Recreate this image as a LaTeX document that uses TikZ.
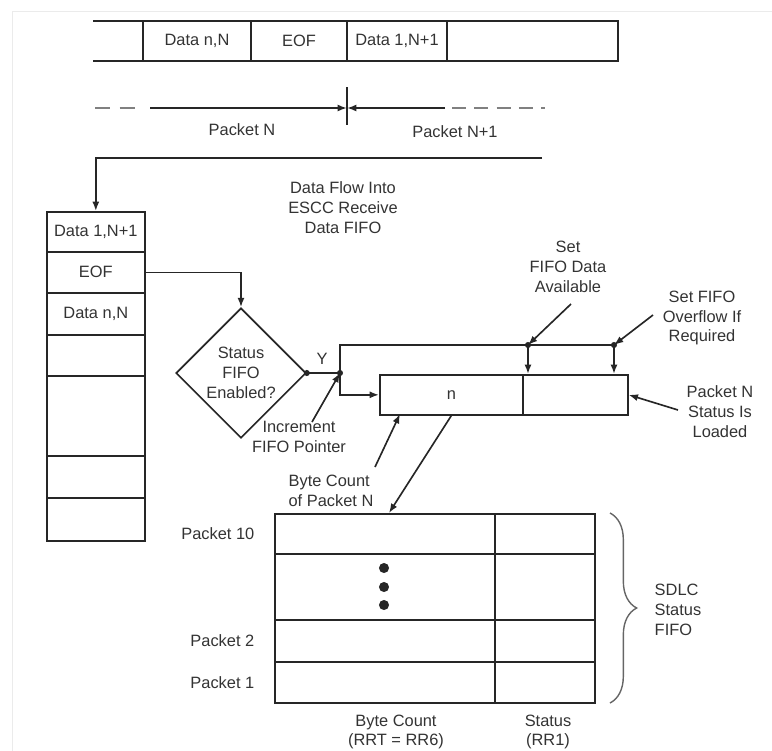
\documentclass[tikz,border=0pt]{standalone}
\usepackage{fontspec}
\setmainfont{Liberation Sans}
\usetikzlibrary{positioning,shapes.geometric,arrows.meta,decorations.pathreplacing}
\definecolor{ink}{HTML}{262626}
\definecolor{txt}{HTML}{333333}
\newcommand{\pxu}{0.03cm}

\begin{document}
\begin{tikzpicture}[x=\pxu, y=-\pxu, color=ink, line width=1.4pt,
    every node/.style={font=\fontsize{14}{17}\selectfont, text=txt, align=center},
    cell/.style={draw=ink, inner sep=0pt, anchor=north west, minimum width=98*\pxu},
    tcell/.style={draw=ink, inner sep=0pt, anchor=north west},
    arr/.style={-{Latex[length=8pt,width=6pt]}}]
        \useasboundingbox (0,0) rectangle (772,751);
        \draw[black!8, line width=0.8pt] (12,751) -- (12,11) -- (772,11);

        % serial stream
        \draw (93,21) -- (618,21) -- (618,61) -- (93,61);
        \foreach \x in {143,251,347,447} \draw (\x,21) -- (\x,61);
        \node (sN) at (197,41) {Data n,N};
        \node (sEOF) at (299,41) {EOF};
        \node (s1) at (397,41) {Data 1,N+1};
        \draw[black!50, dash pattern=on 13pt off 8pt] (95,108) -- (140,108);
        \draw[black!50, dash pattern=on 12pt off 7pt] (452,108) -- (545,108);
        \coordinate (brk) at (347,108);
        \draw[arr] (150,108) -- (brk);
        \draw[arr] (445,108) -- (brk);
        \draw (347,87) -- (347,125);
        \node (pN) at (242,130) {Packet N};
        \node (pN1) at (455,132) {Packet N+1};

        % receive data fifo
        \node[cell, minimum height=40*\pxu] (c1) at (46,211) {Data 1,N+1};
        \node[cell, minimum height=41*\pxu] (c2) at (46,251) {EOF};
        \node[cell, minimum height=42*\pxu] (c3) at (46,292) {Data n,N};
        \node[cell, minimum height=41*\pxu] (c4) at (46,334) {};
        \node[cell, minimum height=80*\pxu] (c5) at (46,375) {};
        \node[cell, minimum height=42*\pxu] (c6) at (46,455) {};
        \node[cell, minimum height=43*\pxu] (c7) at (46,497) {};
        \coordinate (flow) at (542,158);
        \draw[arr] (flow) -| (c1.north);
        \node (flowtxt) at (343,208) {Data Flow Into\\ESCC Receive\\Data FIFO};

        % status fifo enable
        \node[diamond, draw=ink, aspect=1, inner sep=0pt, minimum width=130*\pxu,
            minimum height=130*\pxu] (dia) at (241,373) {Status\\FIFO\\Enabled?};
        \draw[arr] (c2.east) -| (dia.north);
        \coordinate (jn) at (340,373);
        \draw (dia.east) -- (jn);
        \fill (dia.east) circle (2.6pt);
        \fill (jn) circle (2.6pt);
        \node (yes) at (322,359) {Y};

        \node[tcell, minimum width=143*\pxu, minimum height=40*\pxu] (cnt) at (379,374) {n};
        \node[tcell, minimum width=105*\pxu, minimum height=40*\pxu] (stat) at (522,374) {};
        \coordinate (avl) at (528,345);
        \coordinate (ovf) at (614,345);
        \draw (jn) |- (ovf);
        \draw[arr] (jn) |- (cnt.west);
        \draw[arr] (avl) -- (avl |- stat.north);
        \draw[arr] (ovf) -- (ovf |- stat.north);
        \fill (avl) circle (2.6pt);
        \fill (ovf) circle (2.6pt);

        \node (setavl) at (568,267) {Set\\FIFO Data\\Available};
        \coordinate (avltail) at (571,304);
        \draw[arr] (avltail) -- (avl);
        \node (setovf) at (702,318) {Set FIFO\\Overflow If\\Required};
        \coordinate (ovftail) at (653,315);
        \draw[arr] (ovftail) -- (ovf);
        \node (loaded) at (720,412) {Packet N\\Status Is\\Loaded};
        \coordinate (ldtail) at (678,410);
        \draw[arr] (ldtail) -- (stat.east);
        \node (incr) at (299,437) {Increment\\FIFO Pointer};
        \coordinate (inctail) at (312,422);
        \draw[arr] (inctail) -- (jn);

        % sdlc status fifo
        \node[tcell, minimum width=220*\pxu, minimum height=40*\pxu] (b10) at (274,513) {};
        \node[tcell, minimum width=100*\pxu, minimum height=40*\pxu] (s10) at (494,513) {};
        \node[tcell, minimum width=220*\pxu, minimum height=66*\pxu] (bdots) at (274,553) {};
        \node[tcell, minimum width=100*\pxu, minimum height=66*\pxu] (sdots) at (494,553) {};
        \node[tcell, minimum width=220*\pxu, minimum height=42*\pxu] (b2) at (274,619) {};
        \node[tcell, minimum width=100*\pxu, minimum height=42*\pxu] (s2) at (494,619) {};
        \node[tcell, minimum width=220*\pxu, minimum height=41*\pxu] (b1) at (274,661) {};
        \node[tcell, minimum width=100*\pxu, minimum height=41*\pxu] (s1b) at (494,661) {};
        \foreach \y in {568,587,605} \fill (384,\y) circle (4.3pt);
        \node[left=0.45cm of b10] (l10) {Packet 10};
        \node[left=0.45cm of b2] (l2) {Packet 2};
        \node[left=0.45cm of b1] (l1) {Packet 1};

        \coordinate (bcin) at (400,414);
        \coordinate (bctail) at (375,467);
        \draw[arr] (bctail) -- (bcin);
        \coordinate (bcout) at (389,513);
        \draw[arr] (cnt.south) -- (bcout);
        \node[align=left] (bytec) at (331,491) {Byte Count\\of Packet N};

        \draw[black!60, line width=1.2pt, decorate, decoration={brace, amplitude=0.8cm}]
            (610,513) -- (610,703);
        \node[align=left, anchor=west] (sdlc) at (650,610) {SDLC\\Status\\FIFO};
        \node (colb) at (396,732) {Byte Count\\(RRT = RR6)};
        \node (cols) at (548,732) {Status\\(RR1)};
    \end{tikzpicture}
\end{document}
